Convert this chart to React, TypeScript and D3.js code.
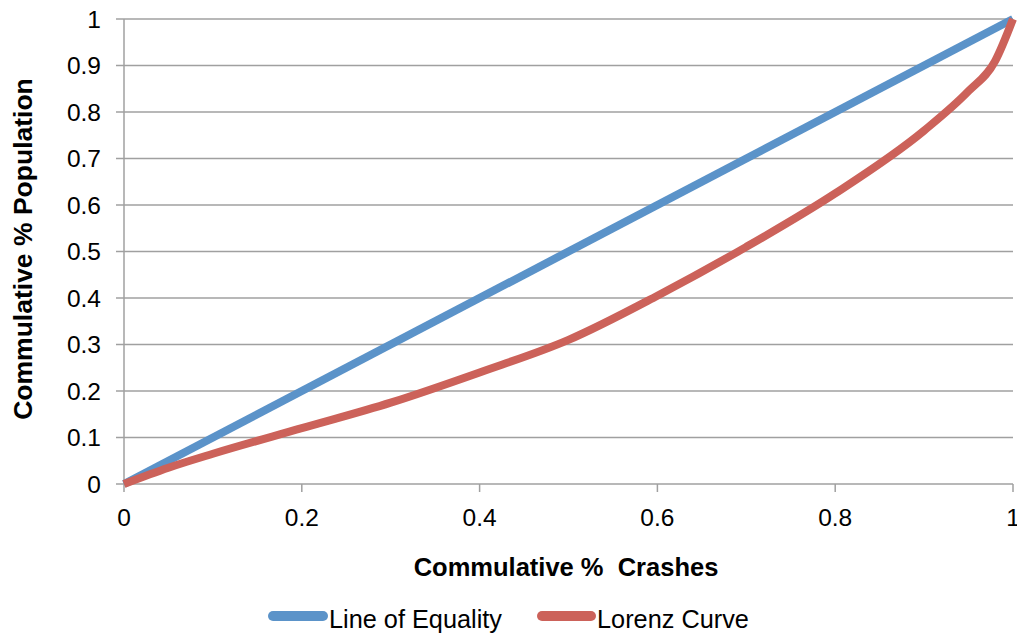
import React from "react";
import * as d3 from "d3";

const xTicks = [0, 0.2, 0.4, 0.6, 0.8, 1];
const yTicks = [0, 0.1, 0.2, 0.3, 0.4, 0.5, 0.6, 0.7, 0.8, 0.9, 1];

const equalityX = [0, 1];
const equalityY = [0, 1];

const lorenzX = [0, 0.05, 0.1, 0.2, 0.3, 0.4, 0.5, 0.6, 0.7, 0.8, 0.9, 0.95, 0.98, 1];
const lorenzY = [0, 0.035, 0.065, 0.12, 0.175, 0.24, 0.31, 0.405, 0.51, 0.625, 0.76, 0.845, 0.91, 1];

const BLUE = "#5B93C9";
const RED = "#CC625A";
const GRID = "#A0A0A0";
const FONT = "'Liberation Sans', Arial, sans-serif";

export default function App() {
  const W = 1017, H = 635;
  const x = d3.scaleLinear().domain([0, 1]).range([124, 1013]);
  const y = d3.scaleLinear().domain([0, 1]).range([484, 19]);
  const line = d3.line<[number, number]>().x(d => x(d[0])).y(d => y(d[1])).curve(d3.curveMonotoneX);
  const eq = equalityX.map((v, i) => [v, equalityY[i]] as [number, number]);
  const lz = lorenzX.map((v, i) => [v, lorenzY[i]] as [number, number]);

  return (
    <svg width={W} height={H} style={{ position: "absolute", left: 0, top: 0 }} fontFamily={FONT}>
      <rect width={W} height={H} fill="#fff" />
      {yTicks.map(t => (
        <g key={"y" + t}>
          <line x1={116} x2={x(1)} y1={y(t)} y2={y(t)} stroke={GRID} strokeWidth={1.5} />
          <text x={101} y={y(t)} dy="0.36em" textAnchor="end" fontSize={24.5} fill="#000">{t}</text>
        </g>
      ))}
      <line x1={x(0)} x2={x(0)} y1={y(1)} y2={y(0)} stroke={GRID} strokeWidth={1.5} />
      {xTicks.map(t => (
        <g key={"x" + t}>
          <line x1={x(t)} x2={x(t)} y1={y(0)} y2={y(0) + 8} stroke={GRID} strokeWidth={1.5} />
          <text x={x(t)} y={526} textAnchor="middle" fontSize={24.5} fill="#000">{t}</text>
        </g>
      ))}
      <path d={line(eq) || ""} fill="none" stroke={BLUE} strokeWidth={8} />
      <path d={line(lz) || ""} fill="none" stroke={RED} strokeWidth={8} strokeLinejoin="round" />
      <text x={566} y={576} textAnchor="middle" fontSize={25.5} fontWeight="bold" fill="#000" style={{ whiteSpace: "pre" }}>
        Commulative %{"\u00A0\u00A0"}Crashes
      </text>
      <text transform="translate(32,249) rotate(-90)" textAnchor="middle" fontSize={26.5} fontWeight="bold" fill="#000">
        Commulative % Population
      </text>
      <line x1={273} x2={323} y1={616} y2={616} stroke={BLUE} strokeWidth={10} strokeLinecap="round" />
      <text x={329} y={628} fontSize={25.3} fill="#000">Line of Equality</text>
      <line x1={542} x2={591} y1={616} y2={616} stroke={RED} strokeWidth={10} strokeLinecap="round" />
      <text x={597} y={628} fontSize={25.3} fill="#000">Lorenz Curve</text>
    </svg>
  );
}
